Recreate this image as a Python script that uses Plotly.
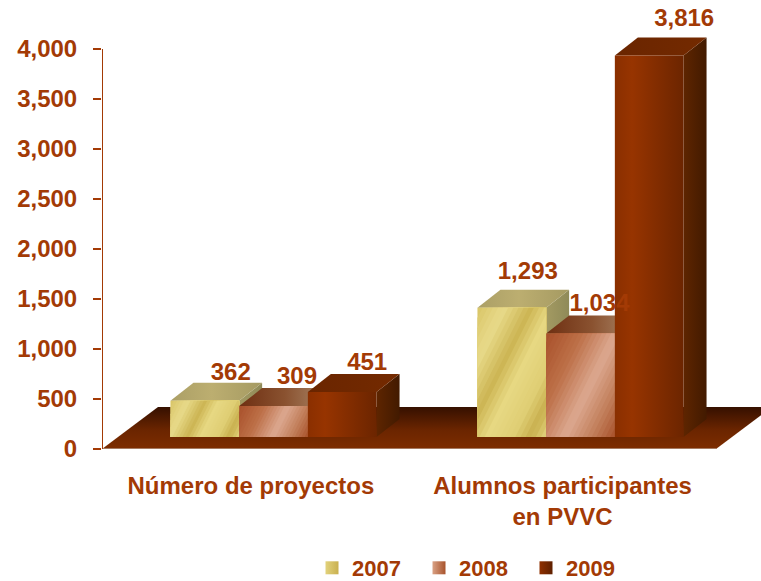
import plotly.graph_objects as go

categories = ["Número de proyectos", "Alumnos participantes<br>en PVVC"]
years = ["2007", "2008", "2009"]
values_2007 = [362, 1293]
values_2008 = [309, 1034]
values_2009 = [451, 3816]
all_values = [values_2007, values_2008, values_2009]

TEXT = "#a33a05"
FONT = "Liberation Sans"
L, R, T, B = 102, 716, 49, 449
PX = 2 / (R - L)          # x data units per pixel
PY = 4000 / (B - T)       # y data units per pixel
XMAX = -.5 + (761 - L) * PX
YMAX = B * PY
DX, DY = 23 * PX, 18 * PY # bar depth
BASE = 120                # bars stand on the floor, 12 px above the front edge
W = 68.7 * PX
SHIFT = 18 * PX
FX, FY = 56 * PX, 42 * PY # floor depth

label_dx = [[26, 23.5, 25], [16, 19, 35]]
label_dy = [[27, 28, 28], [35, 29, 35]]

YEL = [(0, "#d8c567"), (.2, "#e8da8a"), (.4, "#ccb554"), (.55, "#e7d883"),
       (.75, "#dfce74"), (.88, "#c9b04f"), (1, "#e2d27c")]
PEA = [(0, "#a8502a"), (.3, "#bd7048"), (.58, "#dca890"), (.82, "#c07c58"), (1, "#a8522a")]


def hex2(c):
    return [int(c[i:i + 2], 16) for i in (1, 3, 5)]


def sample(stops, t):
    for (a, ca), (b, cb) in zip(stops, stops[1:]):
        if t <= b:
            f = (t - a) / (b - a)
            return "#%02x%02x%02x" % tuple(round(p + (q - p) * f) for p, q in zip(hex2(ca), hex2(cb)))
    return stops[-1][1]


def clip(poly, a, fn):
    """keep the part of poly where fn(pt) >= a"""
    out = []
    for p, q in zip(poly, poly[1:] + poly[:1]):
        up, uq = fn(p) - a, fn(q) - a
        if up >= 0:
            out.append(p)
        if up * uq < 0:
            f = up / (up - uq)
            out.append((p[0] + (q[0] - p[0]) * f, p[1] + (q[1] - p[1]) * f))
    return out


fig = go.Figure()


def face(pts, scale=None, kind="horizontal", color=None, line=None, **kw):
    xs = [p[0] for p in pts] + [pts[0][0]]
    ys = [p[1] for p in pts] + [pts[0][1]]
    t = dict(x=xs, y=ys, mode="lines", fill="toself", hoverinfo="skip",
             line=dict(width=1 if line else 0, color=line or "rgba(0,0,0,0)"), showlegend=False)
    if scale:
        t["fillgradient"] = dict(type=kind, colorscale=[[a, b] for a, b in scale])
    else:
        t["fillcolor"] = color
    t.update(kw)
    fig.add_trace(go.Scatter(**t))


def diagonal(x0, x1, y1, stops, n=26):
    """front face with diagonal sheen, painted as overlapping bands"""
    rect = [(x0, BASE), (x1, BASE), (x1, y1), (x0, y1)]
    fn = lambda p: p[0] / PX - 0.5 * p[1] / PY
    us = [fn(p) for p in rect]
    lo, hi = min(us), max(us)
    for i in range(n):
        a = lo + (hi - lo) * i / n
        poly = clip(rect, a, fn)
        if len(poly) >= 3:
            face(poly, color=sample(stops, (i + .5) / n))


# floor
face([(-.5, 0), (1.5, 0), (1.5 + FX, FY), (-.5 + FX, FY)],
     scale=[(0, "#7d2d00"), (.45, "#6b2500"), (1, "#351000")], kind="vertical")

SIDE = [
    dict(top=[(0, "#ab9f66"), (.45, "#bcae70"), (1, "#a59a62")], side=[(0, "#a39a62"), (1, "#8f8a58")]),
    dict(top=[(0, "#6e2f12"), (.5, "#8a5230"), (1, "#ad8a6c")], side=[(0, "#8a5230"), (1, "#8a5230")]),
    dict(top=[(0, "#6a2500"), (1, "#742a00")], side=[(0, "#5e2500"), (1, "#421a00")]),
]


def bar(g, s):
    v = all_values[s][g]
    cx = g + SHIFT + (s - 1) * W
    x0, x1 = cx - W / 2, cx + W / 2
    y1 = BASE + v
    face([(x1, BASE), (x1 + DX, BASE + DY), (x1 + DX, y1 + DY), (x1, y1)], scale=SIDE[s]["side"])
    face([(x0, y1), (x1, y1), (x1 + DX, y1 + DY), (x0 + DX, y1 + DY)], scale=SIDE[s]["top"])
    if s == 0:
        diagonal(x0, x1, y1, YEL)
    elif s == 1:
        diagonal(x0, x1, y1, PEA)
    else:
        face([(x0, BASE), (x1, BASE), (x1, y1), (x0, y1)],
             scale=[(0, "#8a2f00"), (.25, "#973400"), (1, "#6c2500")])


def label(g, s):
    v = all_values[s][g]
    cx = g + SHIFT + (s - 1) * W
    fig.add_trace(go.Scatter(
        x=[cx + label_dx[g][s] * PX], y=[BASE + v + label_dy[g][s] * PY],
        mode="text", text=[f"{v:,}"], textposition="middle center",
        textfont=dict(family=FONT, size=24, color=TEXT, weight="bold"),
        hoverinfo="skip", showlegend=False))


for g in range(2):
    bar(g, 0)
    bar(g, 1)
    bar(g, 2)
    label(g, 0)
    label(g, 1)
    label(g, 2)

# legend entries
for name, c1, c2 in zip(years, ["#e2d27c", "#d9a184", "#8f3000"], ["#c9b04f", "#a8532c", "#5e2000"]):
    fig.add_trace(go.Scatter(x=[None], y=[None], mode="markers", name=name,
                             marker=dict(symbol="square", size=13, color=c1,
                                         gradient=dict(type="horizontal", color=c2))))

fig.update_layout(
    width=761, height=581, autosize=False,
    margin=dict(l=L, r=0, t=0, b=581 - B, pad=0),
    paper_bgcolor="white", plot_bgcolor="rgba(0,0,0,0)",
    font=dict(family=FONT, color=TEXT, size=24),
    xaxis=dict(range=[-.5, XMAX], tickmode="array", tickvals=[-.015, 1], ticktext=categories,
               showgrid=False, zeroline=False, showline=False,
               ticks="", ticklabelstandoff=20, tickangle=0,
               tickfont=dict(family=FONT, size=24, color=TEXT, weight="bold")),
    yaxis=dict(range=[0, YMAX], tickmode="array", tickvals=list(range(0, 4001, 500)), tickformat=",",
               showgrid=False, zeroline=False, showline=False,
               ticks="outside", ticklen=8, tickwidth=2, tickcolor=TEXT, ticklabelstandoff=11,
               tickfont=dict(family=FONT, size=24, color=TEXT, weight="bold")),
    shapes=[
        dict(type="line", xref="x", yref="y", x0=-.5, x1=1.5, y0=0, y1=0,
             line=dict(color="#cfc8c2", width=1)),
        dict(type="line", xref="x", yref="y", x0=-.5, x1=-.5, y0=0, y1=4000,
             line=dict(color=TEXT, width=2)),
    ],
    legend=dict(orientation="h", xref="container", yref="container",
                x=312 / 761, xanchor="left",
                y=1 - 547 / 581, yanchor="top",
                entrywidth=62, entrywidthmode="pixels", bgcolor="rgba(0,0,0,0)",
                font=dict(family=FONT, size=22, color=TEXT, weight="bold")),
)

# the page sits flush with the window, so that the figure fills all 761x581 pixels
fig.write_html("out.html", config=dict(displayModeBar=False),
               post_script="document.body.style.margin='0';document.documentElement.style.overflow='hidden';")
